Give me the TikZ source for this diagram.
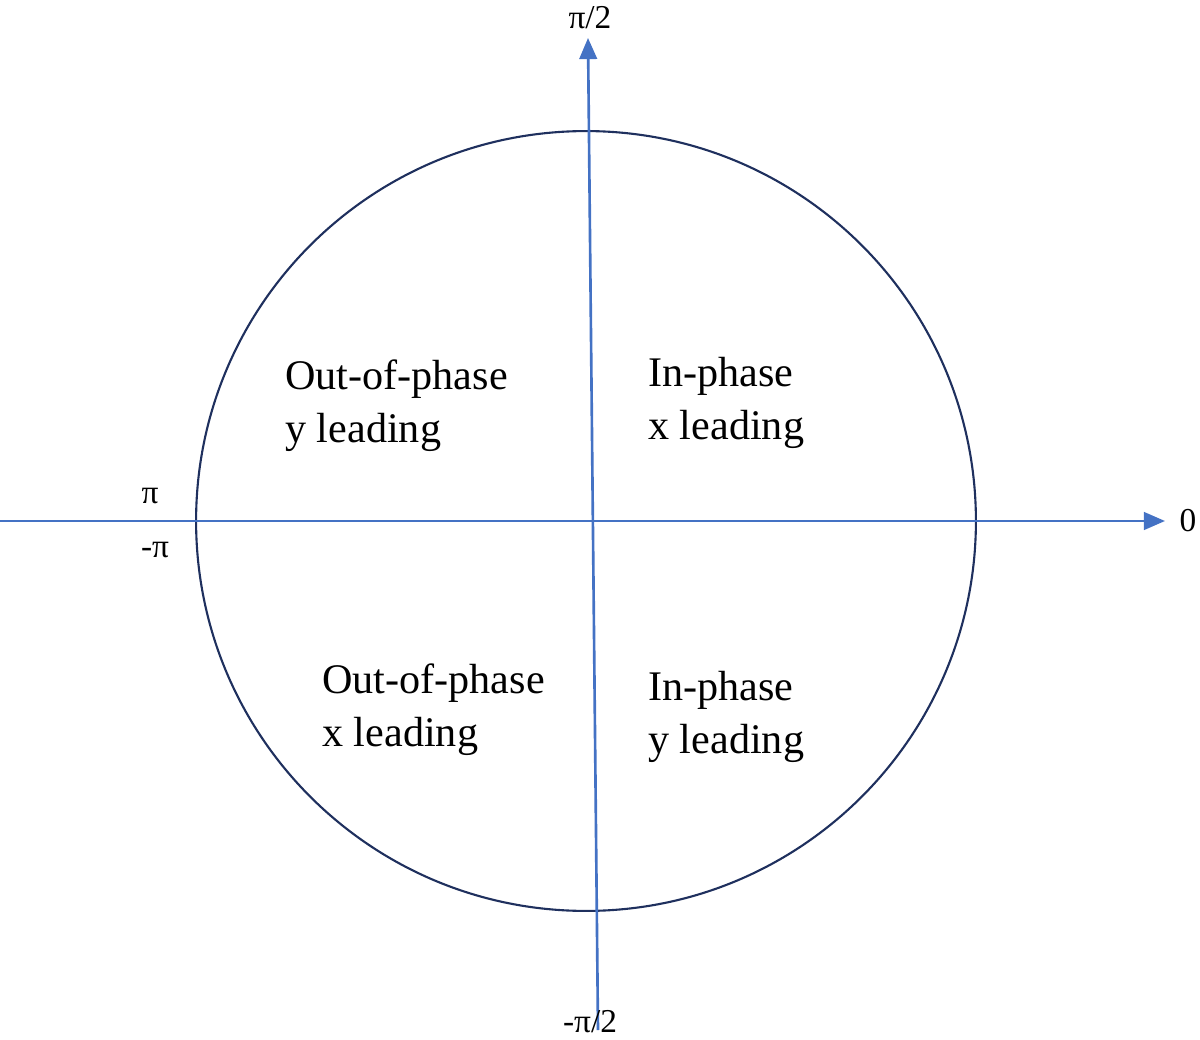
\documentclass[tikz,border=0pt]{standalone}
\usepackage{fontspec}
\setmainfont{Liberation Serif}
\usetikzlibrary{arrows.meta}
\begin{document}
\begin{tikzpicture}[x=0.02cm,y=-0.02cm,
  axis/.style={draw={rgb,255:red,68;green,114;blue,196},line width=1.5pt,-{Triangle[length=12pt,width=10pt]}},
  quad/.style={anchor=west,align=left,font=\fontsize{24}{30}\selectfont,inner sep=0pt},
  lab/.style={font=\fontsize{19}{22}\selectfont,inner sep=0pt}]
\useasboundingbox (0,0) rectangle (1200,1040);
\node[draw={rgb,255:red,31;green,48;blue,94},line width=1.2pt,circle,minimum size=15.6cm,inner sep=0pt] (c) at (586,521) {};
\coordinate (hl) at (0,521);
\coordinate (hr) at (1165,521);
\coordinate (vb) at (598,1030);
\coordinate (vt) at (588,38);
\draw[axis] (hl) -- (hr);
\draw[axis] (vb) -- (vt);
\node[lab] (n1) at (590,18) {π/2};
\node[lab] (n2) at (590,1022) {-π/2};
\node[lab] (n3) at (1188,521) {0};
\node[lab] (n4) at (150,496) {π};
\node[lab] (n5) at (155,550) {-π};
\node[quad] (q1) at (285,406) {Out-of-phase\\y leading};
\node[quad] (q2) at (648,403) {In-phase\\x leading};
\node[quad] (q3) at (322,710) {Out-of-phase\\x leading};
\node[quad] (q4) at (648,717) {In-phase\\y leading};
\end{tikzpicture}
\end{document}
